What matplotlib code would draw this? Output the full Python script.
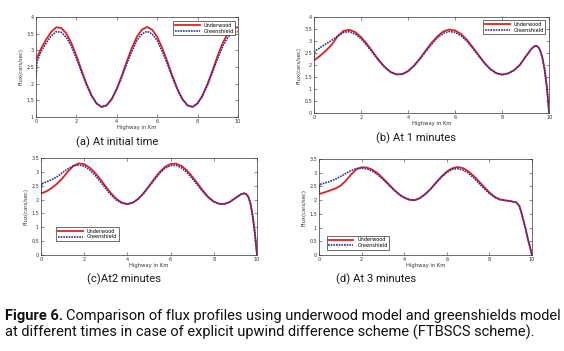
import numpy as np
import matplotlib
matplotlib.use("Agg")
import matplotlib.pyplot as plt
from matplotlib import font_manager

# --- data (Flux in cars/sec vs highway position in km) ---
x_a = [0, 0.05, 0.25, 0.5, 0.75, 1.0, 1.25, 1.5, 1.75, 2.0, 2.25, 2.5, 2.75, 3.0, 3.25, 3.5, 3.75,
       4.0, 4.25, 4.5, 4.75, 5.0, 5.25, 5.5, 5.75, 6.0, 6.25, 6.5, 6.75, 7.0, 7.25, 7.5, 7.75,
       8.0, 8.25, 8.5, 8.75, 9.0, 9.25, 9.5, 9.75, 10.0]
under_a = [2.72, 2.78, 3.05, 3.32, 3.55, 3.69, 3.67, 3.51, 3.22, 2.84, 2.41, 2.0, 1.65, 1.41, 1.30, 1.35, 1.54,
           1.85, 2.24, 2.67, 3.07, 3.41, 3.62, 3.70, 3.62, 3.41, 3.07, 2.67, 2.24, 1.85, 1.54, 1.35, 1.30,
           1.41, 1.65, 2.0, 2.41, 2.84, 3.22, 3.51, 3.67, 3.69]
green_a = [2.2, 2.66, 2.96, 3.21, 3.43, 3.56, 3.54, 3.39, 3.12, 2.76, 2.35, 1.96, 1.63, 1.40, 1.30, 1.35, 1.53,
           1.82, 2.19, 2.60, 2.97, 3.30, 3.49, 3.57, 3.49, 3.30, 2.97, 2.60, 2.19, 1.82, 1.53, 1.35, 1.30,
           1.40, 1.63, 1.96, 2.35, 2.76, 3.12, 3.39, 3.54, 3.56]

x_b = [0, 0.03, 0.25, 0.5, 0.75, 1.0, 1.25, 1.5, 1.75, 2.0, 2.25, 2.5, 2.75, 3.0, 3.25, 3.5, 3.75,
       4.0, 4.25, 4.5, 4.75, 5.0, 5.25, 5.5, 5.75, 6.0, 6.25, 6.5, 6.75, 7.0, 7.25, 7.5, 7.75,
       8.0, 8.25, 8.5, 8.75, 9.0, 9.25, 9.4, 9.5, 9.6, 9.7, 9.8, 9.9, 10.0]
under_b = [2.2, 2.22, 2.38, 2.6, 2.85, 3.2, 3.42, 3.47, 3.37, 3.16, 2.87, 2.54, 2.21, 1.92, 1.71, 1.61, 1.62,
           1.75, 1.98, 2.27, 2.61, 2.93, 3.20, 3.40, 3.48, 3.44, 3.29, 3.05, 2.74, 2.41, 2.09, 1.83, 1.66,
           1.60, 1.65, 1.78, 2.0, 2.35, 2.68, 2.80, 2.78, 2.65, 2.35, 1.85, 1.1, 0.0]
green_b = [2.3, 2.58, 2.72, 2.88, 3.03, 3.2, 3.36, 3.39, 3.29, 3.09, 2.81, 2.5, 2.18, 1.91, 1.71, 1.61, 1.62,
           1.74, 1.96, 2.25, 2.56, 2.87, 3.14, 3.32, 3.40, 3.36, 3.22, 2.99, 2.69, 2.37, 2.07, 1.82, 1.66,
           1.60, 1.65, 1.78, 2.0, 2.35, 2.68, 2.80, 2.78, 2.65, 2.35, 1.85, 1.1, 0.0]

x_c = [0, 0.03, 0.25, 0.5, 0.75, 1.0, 1.25, 1.5, 1.75, 2.0, 2.25, 2.5, 2.75, 3.0, 3.25, 3.5, 3.75,
       4.0, 4.25, 4.5, 4.75, 5.0, 5.25, 5.5, 5.75, 6.0, 6.25, 6.5, 6.75, 7.0, 7.25, 7.5, 7.75,
       8.0, 8.25, 8.5, 8.75, 9.0, 9.25, 9.4, 9.5, 9.6, 9.7, 9.8, 9.9, 10.0]
under_c = [2.22, 2.23, 2.3, 2.42, 2.58, 2.78, 3.02, 3.22, 3.31, 3.28, 3.16, 2.97, 2.73, 2.47, 2.22, 2.02, 1.89,
           1.84, 1.89, 2.03, 2.24, 2.49, 2.76, 3.0, 3.19, 3.29, 3.30, 3.22, 3.06, 2.83, 2.58, 2.32, 2.09,
           1.93, 1.85, 1.845, 1.92, 2.06, 2.19, 2.23, 2.2, 2.1, 1.85, 1.4, 0.8, 0.0]
green_c = [2.3, 2.57, 2.64, 2.72, 2.83, 2.98, 3.12, 3.22, 3.25, 3.21, 3.08, 2.88, 2.65, 2.40, 2.16, 1.98, 1.87,
           1.84, 1.89, 2.02, 2.22, 2.47, 2.72, 2.96, 3.14, 3.23, 3.24, 3.15, 2.99, 2.77, 2.52, 2.28, 2.07,
           1.92, 1.85, 1.845, 1.92, 2.06, 2.19, 2.23, 2.2, 2.1, 1.85, 1.4, 0.8, 0.0]

x_d = [0, 0.03, 0.25, 0.5, 0.75, 1.0, 1.25, 1.5, 1.75, 2.0, 2.25, 2.5, 2.75, 3.0, 3.25, 3.5, 3.75,
       4.0, 4.25, 4.5, 4.75, 5.0, 5.25, 5.5, 5.75, 6.0, 6.25, 6.5, 6.75, 7.0, 7.25, 7.5, 7.75,
       8.0, 8.25, 8.5, 8.75, 9.0, 9.25, 9.4, 9.5, 9.6, 9.7, 9.8, 9.9, 10.0]
under_d = [2.22, 2.23, 2.28, 2.35, 2.42, 2.52, 2.7, 2.93, 3.12, 3.2, 3.19, 3.11, 2.98, 2.80, 2.6, 2.40, 2.22,
           2.09, 2.01, 2.0, 2.08, 2.23, 2.42, 2.645, 2.86, 3.04, 3.16, 3.21, 3.17, 3.06, 2.89, 2.69, 2.48,
           2.28, 2.12, 2.02, 1.99, 1.96, 1.92, 1.8, 1.55, 1.25, 0.95, 0.6, 0.3, 0.0]
green_d = [2.3, 2.57, 2.62, 2.68, 2.76, 2.86, 2.97, 3.08, 3.15, 3.17, 3.14, 3.06, 2.93, 2.76, 2.57, 2.38, 2.21,
           2.09, 2.02, 2.0, 2.08, 2.22, 2.41, 2.63, 2.84, 3.01, 3.12, 3.15, 3.1, 2.99, 2.82, 2.62, 2.42,
           2.24, 2.1, 2.02, 1.99, 1.96, 1.92, 1.8, 1.55, 1.25, 0.95, 0.6, 0.3, 0.0]

captions = ["(a) At initial time", "(b) At 1 minutes", "(c)At2 minutes", "(d) At 3 minutes"]
ylims = [(1, 4), (0, 4), (0, 3.5), (0, 3.5)]

# narrow font for the captions if we have one
names = {f.name for f in font_manager.fontManager.ttflist}
cap_font = ["Liberation Sans Narrow", "Roboto", "DejaVu Sans"]
cap_font = [f for f in cap_font if f in names] or ["DejaVu Sans"]

RED = "#e02020"
BLUE = "#2f2f9a"

fig = plt.figure(figsize=(5.64, 3.51), dpi=100)

# axes rects in figure fraction (left, bottom, width, height)
rects = [(0.0638, 0.6667, 0.358, 0.285),
         (0.557, 0.678, 0.4167, 0.2735),
         (0.0727, 0.2735, 0.383, 0.276),
         (0.5656, 0.2735, 0.3777, 0.2735)]
series = [(x_a, under_a, green_a), (x_b, under_b, green_b),
          (x_c, under_c, green_c), (x_d, under_d, green_d)]
leg_loc = [("upper right", (1.0, 0.98)), ("upper right", (0.995, 0.99)),
           ("lower left", (0.06, 0.12)), ("lower left", (0.025, 0.03))]
cap_pos = [(117, 142), (416, 138), (124, 279), (376, 279)]

for i, (rect, (xs, u, g)) in enumerate(zip(rects, series)):
    ax = fig.add_axes(rect)
    ax.plot(xs, u, color=RED, lw=1.3, label="Underwood")
    ax.plot(xs, g, color=BLUE, lw=1.2, ls=(0, (1, 0.6)), label="Greenshield")
    ax.set_xlim(0, 10)
    ax.set_ylim(*ylims[i])
    ax.set_xticks(np.arange(0, 11, 2))
    ax.set_yticks(np.arange(ylims[i][0], ylims[i][1] + 0.01, 0.5))
    ax.set_yticklabels([f"{v:g}" for v in ax.get_yticks()])
    ax.tick_params(direction="in", length=2, width=0.4, labelsize=3.5, pad=1.5,
                   colors="#333333", top=True, right=True)
    for s in ax.spines.values():
        s.set_linewidth(0.5)
        s.set_color("#333333")
    ax.set_xlabel("Highway in Km", fontsize=3.8, labelpad=1, color="#333333")
    ax.set_ylabel("Flux(cars/sec)", fontsize=3.8, labelpad=2, color="#333333")
    loc, anchor = leg_loc[i]
    leg = ax.legend(loc=loc, bbox_to_anchor=anchor, fontsize=3.6, handlelength=5,
                    fancybox=False, framealpha=1, edgecolor="#333333",
                    borderpad=0.3, labelspacing=0.15, handletextpad=0.8)
    leg.get_frame().set_linewidth(0.5)
    cx, cy = cap_pos[i]
    fig.text(cx / 564, 1 - cy / 351, captions[i], ha="center", va="center",
             fontsize=8.1, family=cap_font, color="#1a1a1a")

# figure caption, bold lead then plain text
fig.canvas.draw()
r = fig.canvas.get_renderer()
t1 = fig.text(5 / 564, 1 - 316 / 351, "Figure 6.", fontsize=10.5, fontweight="bold",
              family=cap_font, va="center", color="#111111")
bb = t1.get_window_extent(renderer=r)
fig.text((bb.x1 + 3) / 564, 1 - 316 / 351,
         "Comparison of flux profiles using underwood model and greenshields model",
         fontsize=10.5, family=cap_font, va="center", color="#111111")
fig.text(5 / 564, 1 - 332 / 351,
         "at different times in case of explicit upwind difference scheme (FTBSCS scheme).",
         fontsize=10.5, family=cap_font, va="center", color="#111111")

fig.savefig("out.png", dpi=100)
